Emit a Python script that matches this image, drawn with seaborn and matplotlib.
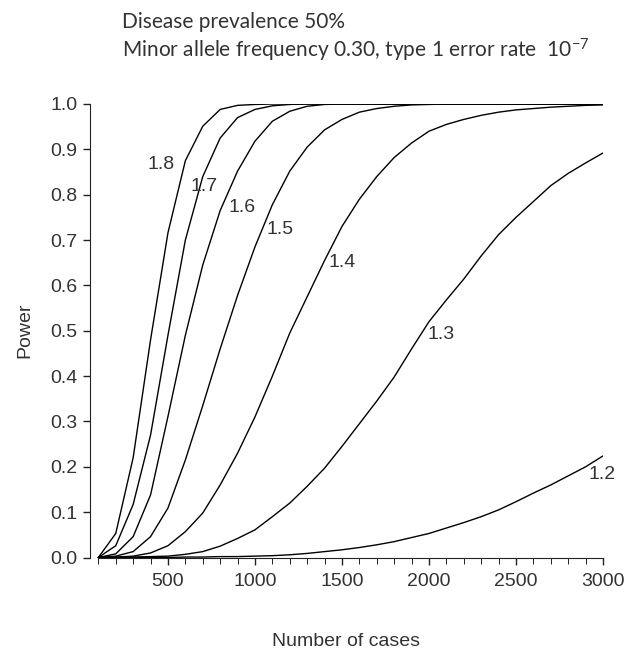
import matplotlib
matplotlib.use('Agg')
import matplotlib.pyplot as plt
import numpy as np
import pandas as pd
import seaborn as sns

# data
n_cases = list(range(100, 3001, 100))

power_18 = [0.0, 0.053, 0.22, 0.48, 0.716, 0.875, 0.951, 0.988, 0.997, 0.999] + [1.0] * 20
power_17 = [0.0, 0.026, 0.117, 0.27, 0.49, 0.70, 0.84, 0.925, 0.97, 0.988, 0.996, 0.999] + [1.0] * 18
power_16 = [0.0, 0.008, 0.046, 0.138, 0.311, 0.49, 0.645, 0.765, 0.852, 0.918, 0.962, 0.984,
            0.995, 0.999] + [1.0] * 16
power_15 = [0.0, 0.003, 0.013, 0.046, 0.109, 0.215, 0.335, 0.46, 0.578, 0.685, 0.778, 0.852,
            0.905, 0.943, 0.966, 0.982, 0.99, 0.995, 0.998, 0.999] + [1.0] * 10
power_14 = [0.0, 0.001, 0.003, 0.01, 0.026, 0.057, 0.098, 0.16, 0.23, 0.31, 0.40, 0.495,
            0.575, 0.655, 0.73, 0.79, 0.84, 0.882, 0.914, 0.94, 0.955, 0.966, 0.975, 0.982,
            0.987, 0.99, 0.993, 0.995, 0.997, 0.998]
power_13 = [0.0, 0.0, 0.001, 0.002, 0.003, 0.007, 0.013, 0.025, 0.042, 0.061, 0.09, 0.12,
            0.157, 0.197, 0.245, 0.295, 0.345, 0.398, 0.46, 0.52, 0.568, 0.614, 0.665, 0.712,
            0.75, 0.785, 0.82, 0.847, 0.87, 0.892]
power_12 = [0.0, 0.0, 0.0, 0.0, 0.0, 0.001, 0.001, 0.002, 0.002, 0.003, 0.004, 0.006,
            0.009, 0.013, 0.017, 0.022, 0.028, 0.035, 0.044, 0.053, 0.065, 0.077, 0.09, 0.105,
            0.123, 0.142, 0.16, 0.18, 0.2, 0.224]

odds_ratios = ['1.8', '1.7', '1.6', '1.5', '1.4', '1.3', '1.2']
series = [power_18, power_17, power_16, power_15, power_14, power_13, power_12]

# label placement (data coordinates), one per curve
label_pos = {'1.8': (460, 0.866), '1.7': (707, 0.818), '1.6': (928, 0.771),
             '1.5': (1144, 0.723), '1.4': (1503, 0.65), '1.3': (2069, 0.491),
             '1.2': (2993, 0.182)}

# long-form table for seaborn
df = pd.concat(
    [pd.DataFrame({'cases': n_cases, 'power': vals, 'OR': orr})
     for orr, vals in zip(odds_ratios, series)],
    ignore_index=True,
)

sns.set_style('ticks')
plt.rcParams['font.family'] = ['Liberation Sans', 'DejaVu Sans']
plt.rcParams['mathtext.default'] = 'regular'

text_col = '#333333'

fig = plt.figure(figsize=(6.31, 6.49), dpi=100)
ax = fig.add_axes([90 / 631, 91.5 / 649, 513 / 631, 453.5 / 649])

sns.lineplot(data=df, x='cases', y='power', hue='OR', units='OR', estimator=None,
             palette=['black'] * len(odds_ratios), linewidth=1.0, legend=False, ax=ax,
             sort=False)

for orr in odds_ratios:
    lx, ly = label_pos[orr]
    ax.text(lx, ly, orr, ha='center', va='center', fontsize=14, color=text_col)

ax.set_xlim(52, 3000)
ax.set_ylim(0, 1.0)
ax.set_xticks([500, 1000, 1500, 2000, 2500, 3000])
ax.set_xticks(n_cases, minor=True)
ax.set_yticks(np.round(np.arange(0, 1.01, 0.1), 1))
ax.set_yticklabels([f'{v:.1f}' for v in np.arange(0, 1.01, 0.1)])

ax.spines['top'].set_visible(False)
ax.spines['right'].set_visible(False)
ax.spines['bottom'].set_bounds(100, 3000)
for sp in ('left', 'bottom'):
    ax.spines[sp].set_linewidth(0.8)
    ax.spines[sp].set_color('#222222')

ax.tick_params(axis='both', which='major', labelsize=14, labelcolor=text_col,
               length=5, width=1.0, color='#222222', pad=4)
ax.tick_params(axis='x', which='major', pad=6)
ax.tick_params(axis='x', which='minor', length=4, width=0.7, color='#222222')

ax.set_xlabel('Number of cases', fontsize=14, color=text_col, labelpad=31)
ax.set_ylabel('Power', fontsize=14, color=text_col, labelpad=12)

fig.text(122 / 631, 1 - 22 / 649, 'Disease prevalence 50%', fontsize=15,
         family=['Lato', 'DejaVu Sans'], color=text_col, va='center')
fig.text(122 / 631, 1 - 50 / 649,
         'Minor allele frequency 0.30, type 1 error rate  10$^{-7}$', fontsize=15,
         family=['Lato', 'DejaVu Sans'], color=text_col, va='center')

fig.savefig('out.png', dpi=100)
